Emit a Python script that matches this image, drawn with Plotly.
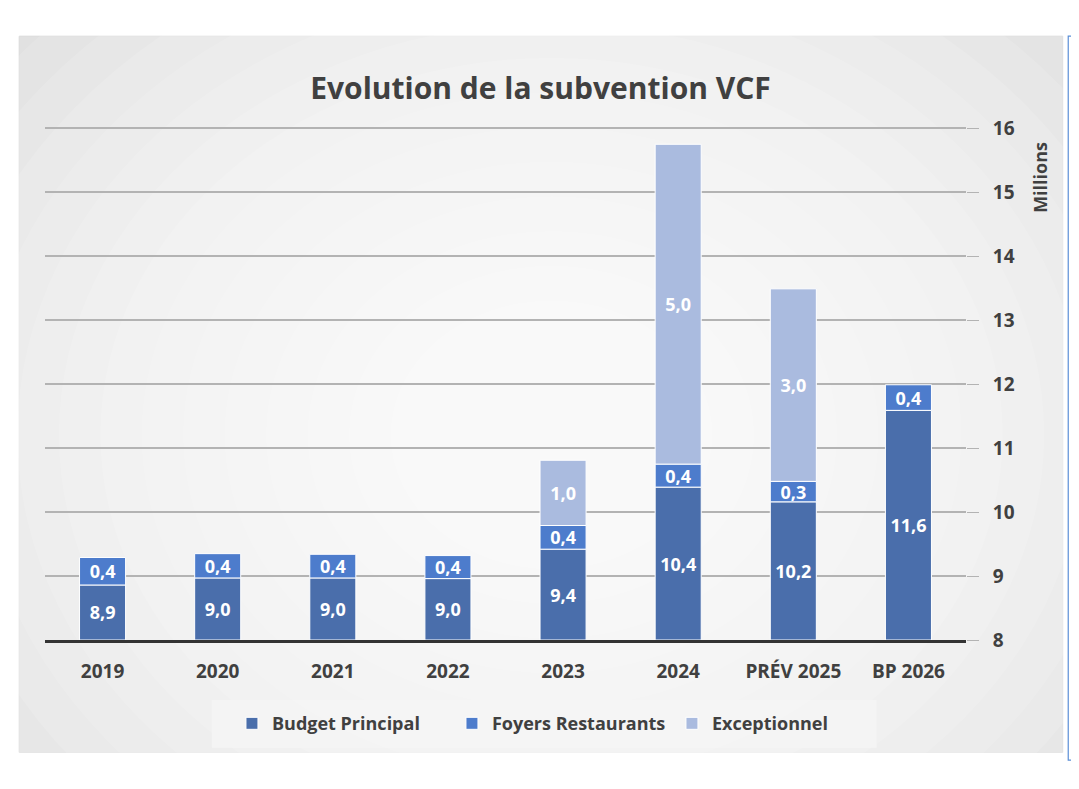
import plotly.graph_objects as go

# Categories and series (millions)
years = ["2019", "2020", "2021", "2022", "2023", "2024", "PRÉV 2025", "BP 2026"]
budget_principal = [8.86, 8.97, 8.97, 8.96, 9.42, 10.39, 10.16, 11.59]
foyers_restaurants = [0.43, 0.38, 0.37, 0.36, 0.37, 0.36, 0.32, 0.40]
exceptionnel = [None, None, None, None, 1.02, 5.00, 3.01, None]

y_min, y_max = 8, 16


def fmt(v):
    return "" if v is None else f"{v:.1f}".replace(".", ",")


label_font = dict(family="Open Sans", size=18, color="white", weight="bold")

# bars are drawn with explicit bases so the labels sit in the visible part above 8
base_fr = budget_principal
base_exc = [b + f for b, f in zip(budget_principal, foyers_restaurants)]

fig = go.Figure()
fig.add_trace(go.Bar(
    name="Budget Principal", x=years,
    y=[v - y_min for v in budget_principal], base=y_min,
    marker=dict(color="#4a6eab", line=dict(color="white", width=1)),
    text=[fmt(v) for v in budget_principal], textposition="inside",
    insidetextanchor="middle", textfont=label_font, constraintext="none",
    hovertext=[fmt(v) for v in budget_principal], hoverinfo="text+name",
))
fig.add_trace(go.Bar(
    name="Foyers Restaurants", x=years,
    y=foyers_restaurants, base=base_fr,
    marker=dict(color="#4d7ccc", line=dict(color="white", width=1)),
    text=[fmt(v) for v in foyers_restaurants], textposition="inside",
    insidetextanchor="middle", textfont=label_font, constraintext="none",
))
fig.add_trace(go.Bar(
    name="Exceptionnel", x=years,
    y=exceptionnel, base=base_exc,
    marker=dict(color="#aabbdf", line=dict(color="white", width=1)),
    text=[fmt(v) for v in exceptionnel], textposition="inside",
    insidetextanchor="middle", textfont=label_font, constraintext="none",
))

# grey panel with a soft white glow towards the middle
shapes = [dict(type="rect", xref="paper", yref="paper", x0=-0.028, x1=1.105,
               y0=-0.219, y1=1.177, fillcolor="#d8d8d8",
               line=dict(color="#d0d0d0", width=1), layer="below")]
n = 16
for i in range(n):
    r = 0.85 - i * 0.045
    shapes.append(dict(type="circle", xref="paper", yref="paper",
                       x0=0.55 - r, x1=0.55 + r, y0=0.40 - r * 1.5, y1=0.40 + r * 1.5,
                       fillcolor="rgba(255,255,255,0.13)", line=dict(width=0),
                       layer="below"))
# legend box
shapes.append(dict(type="rect", xref="paper", yref="paper", x0=0.181, x1=0.903,
                   y0=-0.21, y1=-0.117, fillcolor="rgba(245,245,245,0.85)",
                   line=dict(width=0), layer="below"))
# blue bracket at the right edge
shapes.append(dict(type="path", xref="paper", yref="paper",
                   path="M 1.124,1.177 L 1.111,1.177 L 1.111,-0.234 L 1.124,-0.234",
                   line=dict(color="#5b8fd6", width=1.2), layer="above"))

fig.update_layout(
    width=1071, height=781,
    margin=dict(l=37, r=113, t=119, b=149),
    paper_bgcolor="white", plot_bgcolor="rgba(0,0,0,0)",
    barmode="overlay", bargap=0.6,
    separators=", ",
    title=dict(text="<b>Evolution de la subvention VCF</b>", x=0.538, xref="paper",
               xanchor="center", y=0.897, yanchor="middle",
               font=dict(family="Open Sans", size=30, color="#404040")),
    font=dict(family="Open Sans", color="#404040"),
    showlegend=True,
    legend=dict(orientation="h", x=0.203, xanchor="left", y=-0.163, yanchor="middle",
                font=dict(size=18, color="#404040", weight="bold"),
                entrywidth=175, entrywidthmode="pixels",
                bgcolor="rgba(0,0,0,0)", traceorder="normal"),
    shapes=shapes,
    annotations=[dict(text="<b>Millions</b>", textangle=-90, xref="paper", yref="paper",
                      x=1.081, y=0.902, xanchor="center", yanchor="middle", showarrow=False,
                      font=dict(size=18, color="#404040"))],
)
fig.update_xaxes(showgrid=False, showline=True, linecolor="#333333", linewidth=3,
                 tickfont=dict(size=19, color="#404040", weight="bold"),
                 ticks="", ticklabelstandoff=12)
fig.update_yaxes(side="right", range=[y_min, y_max + 0.02], dtick=1,
                 showgrid=True, gridcolor="#b3b3b3", gridwidth=1.5,
                 zeroline=False, showline=False,
                 tickfont=dict(size=19, color="#404040", weight="bold"),
                 ticks="outside", ticklen=12, tickcolor="#b3b3b3", ticklabelstandoff=10)

fig.write_html("out.html")
